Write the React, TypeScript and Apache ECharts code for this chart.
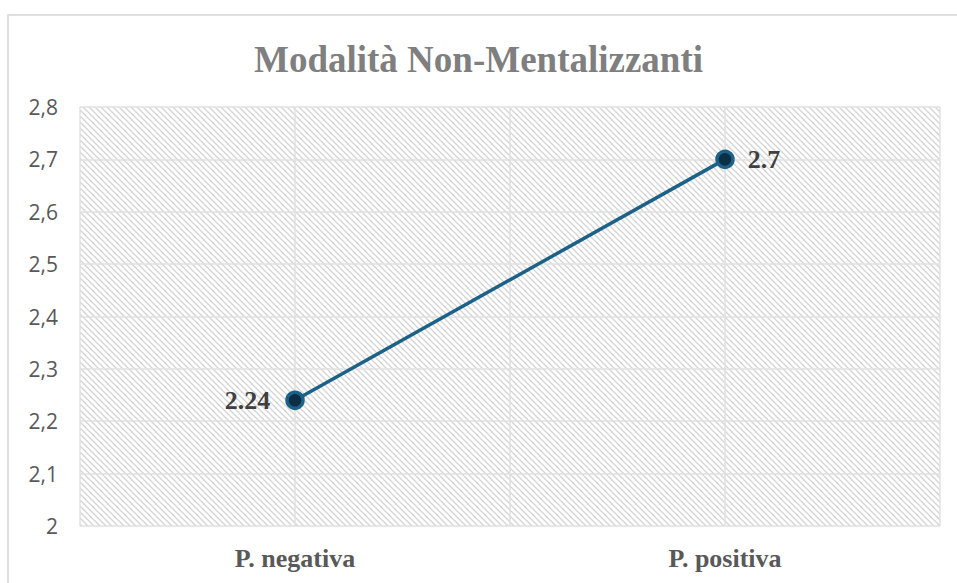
import React, { useEffect, useRef } from "react";
import * as echarts from "echarts";

const categories = ["P. negativa", "P. positiva"];
const values = [2.24, 2.7];
const dataLabels = ["2.24", "2.7"];
const gridCategories = ["", "", "", ""];
const titleText = "Modalità Non-Mentalizzanti";

function makeHatch(): HTMLCanvasElement {
  const c = document.createElement("canvas");
  c.width = 6;
  c.height = 6;
  const ctx = c.getContext("2d")!;
  ctx.fillStyle = "#ffffff";
  ctx.fillRect(0, 0, 6, 6);
  ctx.strokeStyle = "#d4d4d4";
  ctx.lineWidth = 1.3;
  ctx.beginPath();
  ctx.moveTo(-1, -1);
  ctx.lineTo(7, 7);
  ctx.moveTo(-1, 5);
  ctx.lineTo(1, 7);
  ctx.moveTo(5, -1);
  ctx.lineTo(7, 1);
  ctx.stroke();
  return c;
}

export default function App() {
  const ref = useRef<HTMLDivElement>(null);
  useEffect(() => {
    if (!ref.current) return;
    const chart = echarts.init(ref.current, undefined, { renderer: "svg" });
    const hatch = makeHatch();
    chart.setOption({
      animation: false,
      backgroundColor: "#ffffff",
      graphic: [
        {
          type: "rect",
          shape: { x: 8, y: 15, width: 980, height: 620 },
          style: { fill: "none", stroke: "#d6d6d6", lineWidth: 1.5 },
          z: 0,
        },
      ],
      title: {
        text: titleText,
        left: "center",
        top: 36,
        textStyle: {
          fontFamily: "Liberation Serif",
          fontWeight: "bold",
          fontSize: 37,
          color: "#7f7f7f",
        },
      },
      grid: {
        left: 80,
        right: 17,
        top: 107,
        bottom: 57,
        show: true,
        backgroundColor: { image: hatch, repeat: "repeat" },
        borderWidth: 0,
      },
      xAxis: [
        {
          type: "category",
          data: categories,
          boundaryGap: true,
          axisLine: { show: false },
          axisTick: { show: false },
          splitLine: { show: false },
          axisLabel: {
            margin: 19,
            fontFamily: "Liberation Serif",
            fontWeight: "bold",
            fontSize: 26,
            color: "#595959",
          },
        },
        {
          type: "category",
          data: gridCategories,
          boundaryGap: true,
          position: "bottom",
          axisLine: { show: false },
          axisTick: { show: false },
          axisLabel: { show: false },
          splitLine: { show: true, lineStyle: { color: "#e0e0e0", width: 1.5 } },
        },
      ],
      yAxis: {
        type: "value",
        min: 2,
        max: 2.8,
        interval: 0.1,
        axisLine: { show: false },
        axisTick: { show: false },
        splitLine: { show: true, lineStyle: { color: "#e0e0e0", width: 1.5 } },
        axisLabel: {
          margin: 22,
          fontFamily: "Open Sans",
          fontSize: 21,
          color: "#595959",
          formatter: (v: number) => {
            const s = Math.abs(v - Math.round(v)) < 1e-9 ? String(Math.round(v)) : v.toFixed(1);
            return s.replace(".", ",");
          },
        },
      },
      series: [
        {
          type: "line",
          xAxisIndex: 0,
          data: values.map((v, i) => ({
            value: v,
            label: {
              show: true,
              position: i === 0 ? "left" : "right",
              distance: i === 0 ? 15 : 13,
              formatter: dataLabels[i],
            },
          })),
          symbol: "circle",
          symbolSize: 16,
          lineStyle: { color: "#1c6288", width: 3.5 },
          itemStyle: { color: "#0c2f45", borderColor: "#1c6288", borderWidth: 3.5 },
          label: {
            fontFamily: "Liberation Serif",
            fontWeight: "bold",
            fontSize: 26,
            color: "#404040",
          },
          z: 5,
        },
      ],
    });
    return () => chart.dispose();
  }, []);
  return (
    <div
      ref={ref}
      style={{ position: "fixed", left: 0, top: 0, width: 957, height: 583 }}
    />
  );
}
